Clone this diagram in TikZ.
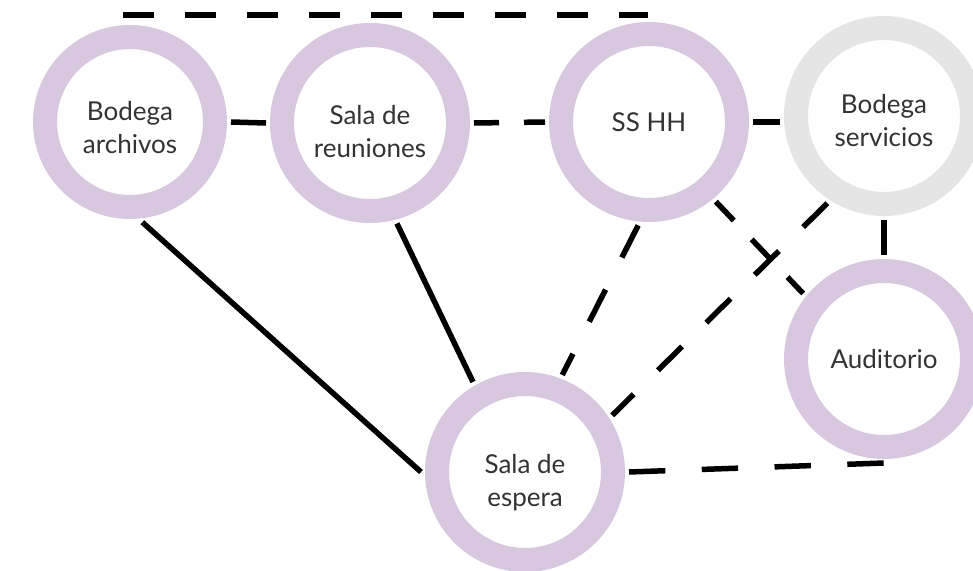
\documentclass[tikz,border=0pt]{standalone}
\usepackage{fontspec}
\setmainfont{Lato}
\definecolor{lila}{HTML}{D7C7DF}
\definecolor{gris}{HTML}{E5E5E5}
\definecolor{texto}{HTML}{333333}
\tikzset{
  sala/.style={circle,draw=lila,line width=24pt,fill=white,minimum size=176pt,
    inner sep=0pt,outer sep=16pt,align=center,text=texto,
    font=\fontsize{26}{33}\selectfont},
  % two-line labels sit a little low in their ring
  baja/.style={execute at begin node={\rule{0pt}{#1}}},
  lazo/.style={line width=5.5pt,black},
  lazod/.style={lazo,dash pattern=on #1 off #1},
}

\begin{document}
\begin{tikzpicture}[x=1pt,y=-1pt]
  % frame: 973 x 570, y grows downwards
  \useasboundingbox (0,0) rectangle (973,570);
  % rooms
  \node[sala,minimum size=170pt,baja=64pt] (archivos) at (130,122) {Bodega\\archivos};
  \node[sala,baja=70pt] (reuniones) at (370,123) {Sala de\\reuniones};
  \node[sala] (sshh) at (649,122) {SS HH};
  \node[sala,draw=gris,baja=62pt] (servicios) at (884,116) {Bodega\\servicios};
  \node[sala] (auditorio) at (884,359) {Auditorio};
  \node[sala,baja=74pt] (espera) at (525,472) {Sala de\\espera};
  % top link, loose ends
  \coordinate (arribaI) at (123,15);
  \coordinate (arribaD) at (648,15);
  \draw[lazod=31pt] (arribaI) -- (arribaD);
  % solid links
  \draw[lazo] (archivos.east) -- (reuniones.west);
  \draw[lazo] (sshh.east) -- (sshh.east -| servicios.west);
  \draw[lazo] (servicios.south) -- (auditorio.north);
  \draw[lazo] (archivos.277) -- (espera.west);
  \draw[lazo] (reuniones.285) -- (espera.120);
  % dashed links
  \draw[lazod=25pt] (reuniones.east) -- (sshh.west);
  \draw[lazod=36pt] (sshh.264) -- (espera.69);
  \draw[lazod=34pt] (servicios.237) -- (espera.33);
  \draw[lazod=26pt] (sshh.310) -- (auditorio.141);
  \draw[lazod=36.4pt] (espera.east) -- (auditorio.south);
\end{tikzpicture}
\end{document}
